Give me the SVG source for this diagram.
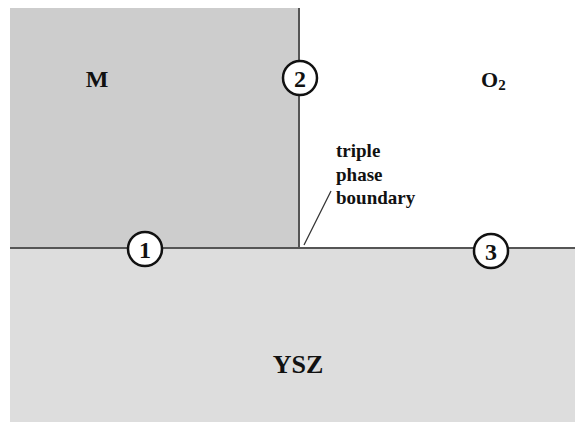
<svg xmlns="http://www.w3.org/2000/svg" width="575" height="423" viewBox="0 0 575 423">
  <style>
    .lbl { font-family: "Liberation Serif", "Times New Roman", serif; font-weight: bold; fill: #111; }
    .edge { stroke: #555; stroke-width: 2; fill: none; }
    .site circle { fill: #fff; stroke: #111; stroke-width: 2.5; }
    .site text { font-family: "Liberation Serif", "Times New Roman", serif; font-weight: bold; font-size: 24px; fill: #111; text-anchor: middle; }
  </style>
  <rect width="575" height="423" fill="#fff"/>

  <!-- electrolyte -->
  <g id="ysz">
    <rect x="10" y="248" width="565" height="174" fill="#dddddd"/>
    <text class="lbl" x="298" y="373" font-size="26" text-anchor="middle">YSZ</text>
  </g>

  <!-- metal electrode -->
  <g id="metal">
    <rect x="10" y="8" width="289" height="240" fill="#cdcdcd"/>
    <text class="lbl" x="97" y="87" font-size="24" text-anchor="middle">M</text>
  </g>

  <!-- gas phase -->
  <g id="gas">
    <text class="lbl" x="481" y="87" font-size="22">O<tspan font-size="15" dy="3">2</tspan></text>
  </g>

  <!-- interfaces -->
  <g id="interfaces">
    <line class="edge" x1="10" y1="248" x2="575" y2="248"/>
    <line class="edge" x1="299" y1="8" x2="299" y2="248"/>
    <line x1="304" y1="245" x2="331" y2="191" stroke="#333" stroke-width="1.3"/>
  </g>

  <g id="tpb-label">
    <text class="lbl" font-size="19">
      <tspan x="336" y="157">triple</tspan>
      <tspan x="336" y="181">phase</tspan>
      <tspan x="336" y="204">boundary</tspan>
    </text>
  </g>

  <!-- reaction sites -->
  <g id="site1" class="site">
    <circle cx="145" cy="249" r="17"/>
    <text x="145" y="258">1</text>
  </g>
  <g id="site2" class="site">
    <circle cx="300" cy="78" r="17"/>
    <text x="300" y="87">2</text>
  </g>
  <g id="site3" class="site">
    <circle cx="491" cy="251" r="17"/>
    <text x="491" y="260">3</text>
  </g>
</svg>
